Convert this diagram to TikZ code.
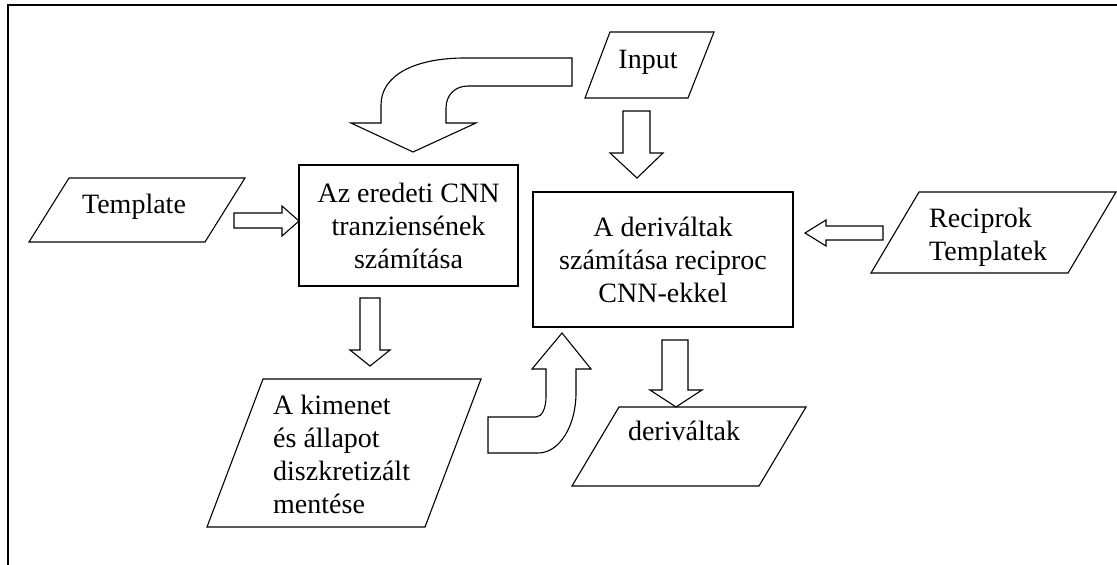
\documentclass[tikz,border=0pt]{standalone}
\usepackage{fontspec}
\setmainfont{Liberation Serif}
\begin{document}
\begin{tikzpicture}[x=1pt,y=-1pt,
  outline/.style={draw=black, line width=1.1pt, line join=miter},
  blockarrow/.style={draw=black, fill=white, line width=1.1pt, line join=miter},
  txt/.style={font=\fontsize{28}{33}\selectfont, inner sep=0pt},
  procbox/.style={draw=black, line width=1.1pt, font=\fontsize{28}{33}\selectfont,
    align=center, inner sep=0pt, outer sep=0pt},
  frameline/.style={draw=black, line width=2pt, line join=miter}]
\useasboundingbox (0,0) rectangle (1117,565);

% frame (top and left edges only)
\draw[frameline] (7.5,565) -- (7.5,5.3) -- (1117,5.3);

% process boxes
\node[procbox, minimum width=219pt, minimum height=121pt] (orig) at (408.5,225.5)
  {Az eredeti CNN\\tranziensének\\számítása};
\node[procbox, minimum width=260pt, minimum height=135pt] (deriv) at (663,259.5)
  {A deriváltak\\számítása reciproc\\CNN-ekkel};

% data parallelograms
\draw[outline] (610,32) -- (714,32) -- (688,98) -- (585,98) -- cycle;
\node[txt, anchor=base] (input) at (648,68) {Input};

\draw[outline] (69,178) -- (245,178) -- (205,242) -- (29,242) -- cycle;
\node[txt, anchor=base] (template) at (134,213) {Template};

\draw[outline] (919,192) -- (1116,192) -- (1068,273) -- (871,273) -- cycle;
\node[txt, anchor=north west, align=left] (reciprok) at (929,208) {Reciprok\\Templatek};

\draw[outline] (263,379) -- (481,379) -- (425,527) -- (207,527) -- cycle;
\node[txt, anchor=north west, align=left] (kimenet) at (273,395)
  {A kimenet\\és állapot\\diszkretizált\\mentése};

\draw[outline] (619,407) -- (806,407) -- (759,486) -- (572,486) -- cycle;
\node[txt, anchor=base] (derivout) at (684,440) {deriváltak};

% straight block arrows
\draw[blockarrow] (234,213) -- (282,213) -- (282,206) -- (299,221) -- (282,236)
  -- (282,228) -- (234,228) -- cycle;
\draw[blockarrow] (883,226) -- (826,226) -- (826,220) -- (805,233) -- (826,246)
  -- (826,240) -- (883,240) -- cycle;
\draw[blockarrow] (623,111) -- (650,111) -- (650,153) -- (663,153) -- (637,178)
  -- (610,153) -- (623,153) -- cycle;
\draw[blockarrow] (360,298) -- (380,298) -- (380,350) -- (390,350) -- (370,366)
  -- (350,350) -- (360,350) -- cycle;
\draw[blockarrow] (662,340) -- (688,340) -- (688,390) -- (702,390) -- (676,407)
  -- (650,390) -- (662,390) -- cycle;

% bent block arrow into the transient box
\draw[blockarrow] (572,58) -- (572,86) -- (468,86)
  .. controls (455,86) and (446,95) .. (446,108) -- (446,123) -- (476,123)
  -- (413,152) -- (351,123) -- (381,123) -- (381,105)
  .. controls (381,75) and (415,58) .. (465,58) -- cycle;

% bent block arrow into the derivative box
\draw[blockarrow] (562,333) -- (591,369) -- (576,369) -- (576,393)
  .. controls (576,425) and (560,453) .. (538,453) -- (488,453) -- (488,417)
  -- (536,417) .. controls (542,417) and (546,408) .. (546,397) -- (546,369)
  -- (532,369) -- cycle;
\end{tikzpicture}
\end{document}
